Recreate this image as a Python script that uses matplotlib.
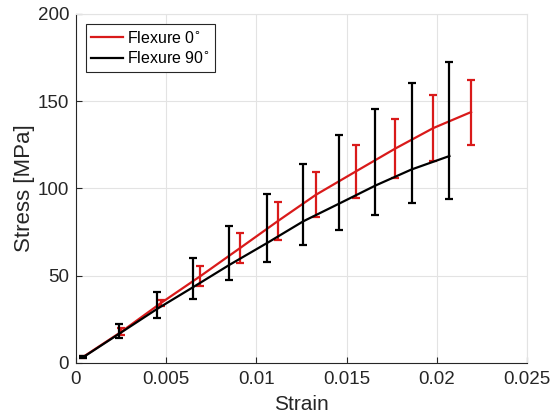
import matplotlib.pyplot as plt
from matplotlib.lines import Line2D
from matplotlib.ticker import FixedLocator, FixedFormatter

plt.rcParams['font.family'] = ['Liberation Sans', 'DejaVu Sans']

# Flexure 0 deg: mean stress and the spread at each strain step
strain_0 = [0.0004, 0.0025, 0.0047, 0.0069, 0.0091, 0.0112, 0.0133, 0.0155, 0.0177, 0.0198, 0.0219]
stress_0 = [3.5, 17.8, 34.3, 49.8, 65.9, 81.4, 96.4, 109.7, 122.9, 134.6, 143.8]
low_0 = [2.8, 16.0, 32.4, 43.9, 57.3, 70.7, 83.5, 94.6, 106.1, 115.7, 124.7]
high_0 = [4.2, 20.0, 36.2, 55.7, 74.5, 92.1, 109.4, 124.7, 139.7, 153.4, 162.0]

# Flexure 90 deg
strain_90 = [0.0004, 0.0024, 0.0045, 0.0065, 0.0085, 0.0106, 0.0126, 0.0146, 0.0166, 0.0186, 0.0207]
stress_90 = [3.3, 16.8, 31.0, 43.5, 56.2, 68.8, 81.2, 91.4, 101.7, 110.9, 118.6]
low_90 = [2.6, 14.4, 25.5, 36.8, 47.7, 57.6, 67.4, 76.4, 84.8, 91.4, 94.2]
high_90 = [4.2, 22.4, 40.8, 60.3, 78.7, 97.1, 114.2, 130.5, 145.8, 160.2, 172.6]

x_ticks = [0, 0.005, 0.01, 0.015, 0.02, 0.025]
x_labels = ['0', '0.005', '0.01', '0.015', '0.02', '0.025']
y_ticks = [0, 50, 100, 150, 200]

red = '#d91a1a'
ink = '#262626'

fig = plt.figure(figsize=(5.53, 4.19), dpi=100)
ax = fig.add_axes([0.1374, 0.1337, 0.8156, 0.8329])

def spread(mean, lo, hi):
    return [[m - l for m, l in zip(mean, lo)], [h - m for m, h in zip(mean, hi)]]

ax.errorbar(strain_0, stress_0, yerr=spread(stress_0, low_0, high_0),
            color=red, lw=1.6, elinewidth=1.6, capsize=3.2, capthick=1.6, zorder=3)
ax.errorbar(strain_90, stress_90, yerr=spread(stress_90, low_90, high_90),
            color='black', lw=1.6, elinewidth=1.6, capsize=3.2, capthick=1.6, zorder=4)

ax.set_xlim(0, 0.025)
ax.set_ylim(0, 200)
ax.xaxis.set_major_locator(FixedLocator(x_ticks))
ax.xaxis.set_major_formatter(FixedFormatter(x_labels))
ax.set_yticks(y_ticks)

ax.grid(True, color='#e3e3e3', lw=0.8)
ax.set_axisbelow(True)
for side in ['top', 'right']:
    ax.spines[side].set_color('#e3e3e3')
for side in ['left', 'bottom']:
    ax.spines[side].set_color(ink)
    ax.spines[side].set_linewidth(0.8)
ax.tick_params(direction='in', length=4, width=0.8, labelsize=13.5,
               colors=ink, top=False, right=False)
ax.tick_params(axis='x', pad=6)
ax.tick_params(axis='y', pad=5)

ax.set_xlabel('Strain', fontsize=15, color=ink, labelpad=5)
ax.set_ylabel('Stress [MPa]', fontsize=16, color=ink, labelpad=2)

# legend shows plain line handles
handles = [Line2D([], [], color=red, lw=1.6), Line2D([], [], color='black', lw=1.6)]
leg = ax.legend(handles, ['Flexure 0$^{\\circ}$', 'Flexure 90$^{\\circ}$'],
                loc='upper left', bbox_to_anchor=(0.022, 0.971), borderaxespad=0,
                fontsize=11.5, fancybox=False, framealpha=1, edgecolor=ink,
                handlelength=1.95, handletextpad=0.25, borderpad=0.35, labelspacing=0.3)
leg.get_frame().set_linewidth(0.8)

fig.savefig('out.png', dpi=100)
